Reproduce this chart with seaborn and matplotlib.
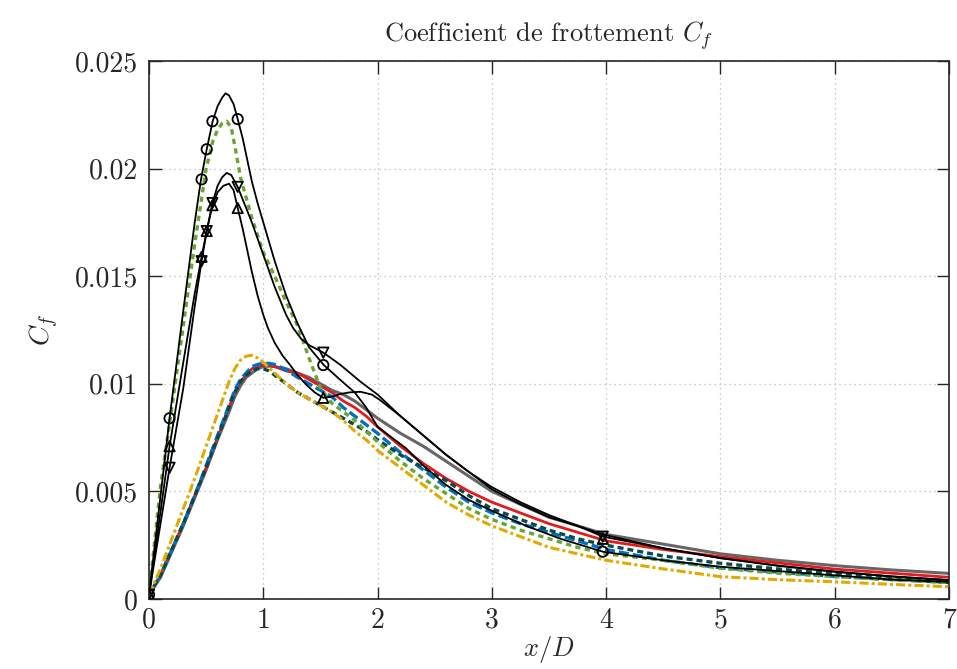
import numpy as np
import pandas as pd
import seaborn as sns
import matplotlib.pyplot as plt

# ---- data ----
# lower group (common x grid)
x_low = [0.0, 0.1, 0.2, 0.3, 0.4, 0.5, 0.6, 0.7, 0.75, 0.8, 0.85, 0.9, 0.95, 1.0, 1.05, 1.1,
         1.2, 1.3, 1.4, 1.5, 1.6, 1.7, 1.8, 1.9, 2.0, 2.2, 2.4, 2.6, 2.8, 3.0, 3.25, 3.5,
         3.75, 4.0, 4.5, 5.0, 5.5, 6.0, 6.5, 7.0]
cf_gray = [0.0002, 0.0010, 0.0022, 0.0034, 0.0047, 0.0060, 0.0074, 0.0087, 0.0094, 0.0099, 0.0103,
           0.0105, 0.0107, 0.0108, 0.01082, 0.0108, 0.0107, 0.0105, 0.0103, 0.0100, 0.0097,
           0.0095, 0.0092, 0.0088, 0.0084, 0.0077, 0.0071, 0.0064, 0.0057, 0.0050, 0.0044,
           0.0038, 0.0034, 0.0030, 0.00255, 0.0021, 0.0018, 0.00155, 0.00135, 0.00119]
cf_red = [0.0002, 0.0011, 0.0023, 0.0035, 0.0048, 0.0061, 0.0075, 0.0089, 0.0096, 0.0101, 0.0104,
          0.0107, 0.0108, 0.01087, 0.01085, 0.0108, 0.0106, 0.0105, 0.0102, 0.0099, 0.0096,
          0.0092, 0.0089, 0.0085, 0.0080, 0.0071, 0.0063, 0.0056, 0.0050, 0.0045, 0.0040,
          0.0035, 0.0031, 0.0027, 0.0023, 0.00197, 0.00168, 0.00139, 0.0012, 0.00101]
cf_blue = [0.0002, 0.0011, 0.0023, 0.0035, 0.0048, 0.0062, 0.0076, 0.0090, 0.0097, 0.0102, 0.0105,
           0.0108, 0.0109, 0.01095, 0.01095, 0.0109, 0.01065, 0.0103, 0.0100, 0.0097, 0.0094,
           0.0089, 0.0085, 0.0081, 0.0077, 0.0068, 0.0060, 0.0052, 0.0045, 0.0040, 0.0035,
           0.0031, 0.0027, 0.0023, 0.0018, 0.00145, 0.00125, 0.00105, 0.0009, 0.00077]
cf_teal = [0.0002, 0.0011, 0.0023, 0.0035, 0.0048, 0.0061, 0.0075, 0.0089, 0.0096, 0.0101, 0.0104,
           0.0106, 0.0107, 0.0107, 0.0106, 0.0104, 0.0100, 0.0096, 0.0093, 0.0090, 0.0087,
           0.0084, 0.0081, 0.0078, 0.0074, 0.0067, 0.0061, 0.0055, 0.0048, 0.0042, 0.0037,
           0.0032, 0.0028, 0.0025, 0.0020, 0.00166, 0.0014, 0.00116, 0.00095, 0.00077]
cf_yellow = [0.0002, 0.0014, 0.0028, 0.0042, 0.0056, 0.0071, 0.0086, 0.0101, 0.0107, 0.0111, 0.01128,
             0.01133, 0.0112, 0.0110, 0.01075, 0.0105, 0.0100, 0.0096, 0.0093, 0.0090, 0.0087,
             0.0083, 0.0078, 0.0074, 0.0069, 0.0061, 0.0053, 0.0045, 0.0039, 0.0034, 0.0029,
             0.0024, 0.0021, 0.0018, 0.0014, 0.00104, 0.0009, 0.0008, 0.00068, 0.00057]

# light green dashed: follows the high peak, then drops into the lower group
x_green = [0.0, 0.1, 0.2, 0.3, 0.4, 0.5, 0.56, 0.6, 0.64, 0.68, 0.72, 0.76, 0.8, 0.9, 1.0, 1.1,
           1.2, 1.3, 1.4, 1.5, 1.6, 1.7, 1.8, 1.9, 2.0, 2.2, 2.4, 2.6, 2.8, 3.0, 3.25, 3.5,
           3.75, 4.0, 4.5, 5.0, 5.5, 6.0, 6.5, 7.0]
cf_green = [0.0002, 0.0052, 0.0089, 0.0127, 0.0165, 0.0200, 0.0213, 0.0218, 0.0221, 0.0222, 0.0219,
            0.0208, 0.0196, 0.0177, 0.0161, 0.0150, 0.0138, 0.0127, 0.0112, 0.0098, 0.0091,
            0.0087, 0.0083, 0.0078, 0.0073, 0.0064, 0.0056, 0.0049, 0.0042, 0.0037, 0.0032,
            0.0028, 0.0024, 0.0021, 0.0018, 0.00143, 0.0012, 0.00104, 0.0009, 0.00077]

# black curves
x_circ = [0.0, 0.18, 0.3, 0.4, 0.455, 0.505, 0.557, 0.6, 0.64, 0.67, 0.7, 0.74, 0.776, 0.82,
          0.86, 0.9, 0.95, 1.0, 1.1, 1.2, 1.3, 1.4, 1.53, 1.67, 1.8, 1.9, 2.0, 2.1, 2.25, 2.4,
          2.6, 2.8, 3.0, 3.3, 3.6, 3.97, 4.5, 5.0, 5.5, 6.0, 6.5, 7.0]
cf_circ = [0.0002, 0.0084, 0.0134, 0.0175, 0.0195, 0.0209, 0.0222, 0.0229, 0.0233, 0.0235, 0.0234,
           0.0230, 0.0223, 0.0214, 0.0204, 0.0194, 0.0184, 0.0175, 0.0157, 0.0141, 0.0128,
           0.0117, 0.01087, 0.0102, 0.0096, 0.0089, 0.0080, 0.0076, 0.0070, 0.0062, 0.0053,
           0.0046, 0.0041, 0.0034, 0.0028, 0.0022, 0.0018, 0.0015, 0.0013, 0.0011, 0.0009,
           0.0008]

x_down = [0.0, 0.18, 0.3, 0.4, 0.46, 0.505, 0.555, 0.6, 0.64, 0.68, 0.72, 0.776, 0.84, 0.9, 1.0,
          1.1, 1.2, 1.26, 1.33, 1.4, 1.525, 1.67, 1.85, 2.0, 2.2, 2.4, 2.6, 2.8, 3.0, 3.25,
          3.5, 3.75, 3.97, 4.5, 5.0, 5.5, 6.0, 6.5, 7.0]
cf_down = [0.0002, 0.0061, 0.0098, 0.0136, 0.0157, 0.0171, 0.0184, 0.0192, 0.0196, 0.0198, 0.0197,
           0.01915, 0.0183, 0.0175, 0.0160, 0.0145, 0.0132, 0.0126, 0.0121, 0.0118, 0.01145,
           0.0109, 0.0101, 0.0095, 0.0085, 0.0076, 0.0067, 0.0059, 0.0052, 0.0045, 0.0039,
           0.0034, 0.0030, 0.00236, 0.0019, 0.00155, 0.00127, 0.00105, 0.00088]

x_up = [0.0, 0.18, 0.3, 0.4, 0.46, 0.505, 0.555, 0.6, 0.65, 0.7, 0.74, 0.776, 0.82, 0.86, 0.9,
        0.95, 1.0, 1.04, 1.1, 1.17, 1.235, 1.3, 1.38, 1.45, 1.525, 1.6, 1.67, 1.75, 1.85,
        1.95, 2.02, 2.2, 2.4, 2.6, 2.8, 3.0, 3.25, 3.5, 3.75, 3.97, 4.5, 5.0, 5.5, 6.0,
        6.5, 7.0]
cf_up = [0.0002, 0.0071, 0.0110, 0.0142, 0.0159, 0.0171, 0.0183, 0.0189, 0.0192, 0.0193, 0.0190,
         0.01817, 0.0172, 0.0162, 0.0152, 0.0141, 0.0132, 0.0126, 0.0119, 0.0113, 0.01087,
         0.0104, 0.00994, 0.0096, 0.00935, 0.0094, 0.00952, 0.0096, 0.00963, 0.0095, 0.00925,
         0.0085, 0.0076, 0.0067, 0.0059, 0.0051, 0.0044, 0.0038, 0.0034, 0.0029, 0.00236,
         0.0019, 0.00155, 0.00127, 0.00105, 0.00088]

# sparse marker positions on the black curves
mk_x = [0.0, 0.18, 0.46, 0.505, 0.555, 0.776, 1.525, 3.97]
mk_circ = [0.0002, 0.0084, 0.0195, 0.0209, 0.0222, 0.0223, 0.01087, 0.0022]
mk_down = [0.0002, 0.0061, 0.0157, 0.0171, 0.0184, 0.01915, 0.01145, 0.0029]
mk_up = [0.0002, 0.0071, 0.0159, 0.0171, 0.0183, 0.01817, 0.00935, 0.0028]

y_ticks = [0, 0.005, 0.01, 0.015, 0.02, 0.025]
y_labels = ["0", "0.005", "0.01", "0.015", "0.02", "0.025"]
x_ticks = [0, 1, 2, 3, 4, 5, 6, 7]

sns.set_style("ticks")
plt.rcParams["font.family"] = "serif"
plt.rcParams["font.serif"] = ["cmr10", "DejaVu Serif"]
plt.rcParams["mathtext.fontset"] = "cm"
plt.rcParams["axes.unicode_minus"] = False
plt.rcParams["axes.formatter.use_mathtext"] = True

fig = plt.figure(figsize=(9.57, 6.69), dpi=100)
ax = fig.add_axes([0.1557, 0.1046, 0.836, 0.8042])

# (x, y, colour, width, dash pattern) in drawing order
curves = [
    (x_low, cf_gray, "#666666", 2.2, None),
    (x_low, cf_red, "#e41a1c", 2.0, None),
    (x_low, cf_blue, "#0072bd", 2.4, (3.0, 1.2)),
    (x_low, cf_teal, "#0b4a4a", 2.4, (1.8, 1.2)),
    (x_green, cf_green, "#6aa532", 2.4, (1.6, 1.3)),
    (x_low, cf_yellow, "#e0aa00", 2.2, (3.0, 1.0, 1.0, 1.0)),
    (x_circ, cf_circ, "black", 1.3, None),
    (x_down, cf_down, "black", 1.3, None),
    (x_up, cf_up, "black", 1.3, None),
]
for xs, ys, col, lw, dash in curves:
    sns.lineplot(x=xs, y=ys, color=col, lw=lw, sort=False, estimator=None, ax=ax)
    line = ax.lines[-1]
    if dash is not None:
        line.set_dashes(dash)

for ys, mk in [(mk_circ, "o"), (mk_down, "v"), (mk_up, "^")]:
    sns.scatterplot(x=mk_x, y=ys, marker=mk, s=55, facecolor="none",
                    edgecolor="black", linewidth=1.3, ax=ax, zorder=5)

ax.set_xlim(0, 7)
ax.set_ylim(0, 0.025)
ax.set_xticks(x_ticks)
ax.set_xticklabels([str(t) for t in x_ticks])
ax.set_yticks(y_ticks)
ax.set_yticklabels(y_labels)
ax.tick_params(direction="in", length=9, width=1, top=True, right=True,
               labelsize=20, pad=8)
ax.tick_params(axis="x", pad=6)
ax.grid(True, color="#b8b8b8", linestyle=(0, (1, 3)), linewidth=0.9)
for sp in ax.spines.values():
    sp.set_linewidth(1.2)

ax.set_xlabel("$x/D$", fontsize=19, labelpad=0)
ax.set_ylabel("$C_f$", fontsize=20, labelpad=10)
ax.set_title("Coefficient de frottement $C_f$", fontsize=19, pad=14)

fig.savefig("out.png", dpi=100)
